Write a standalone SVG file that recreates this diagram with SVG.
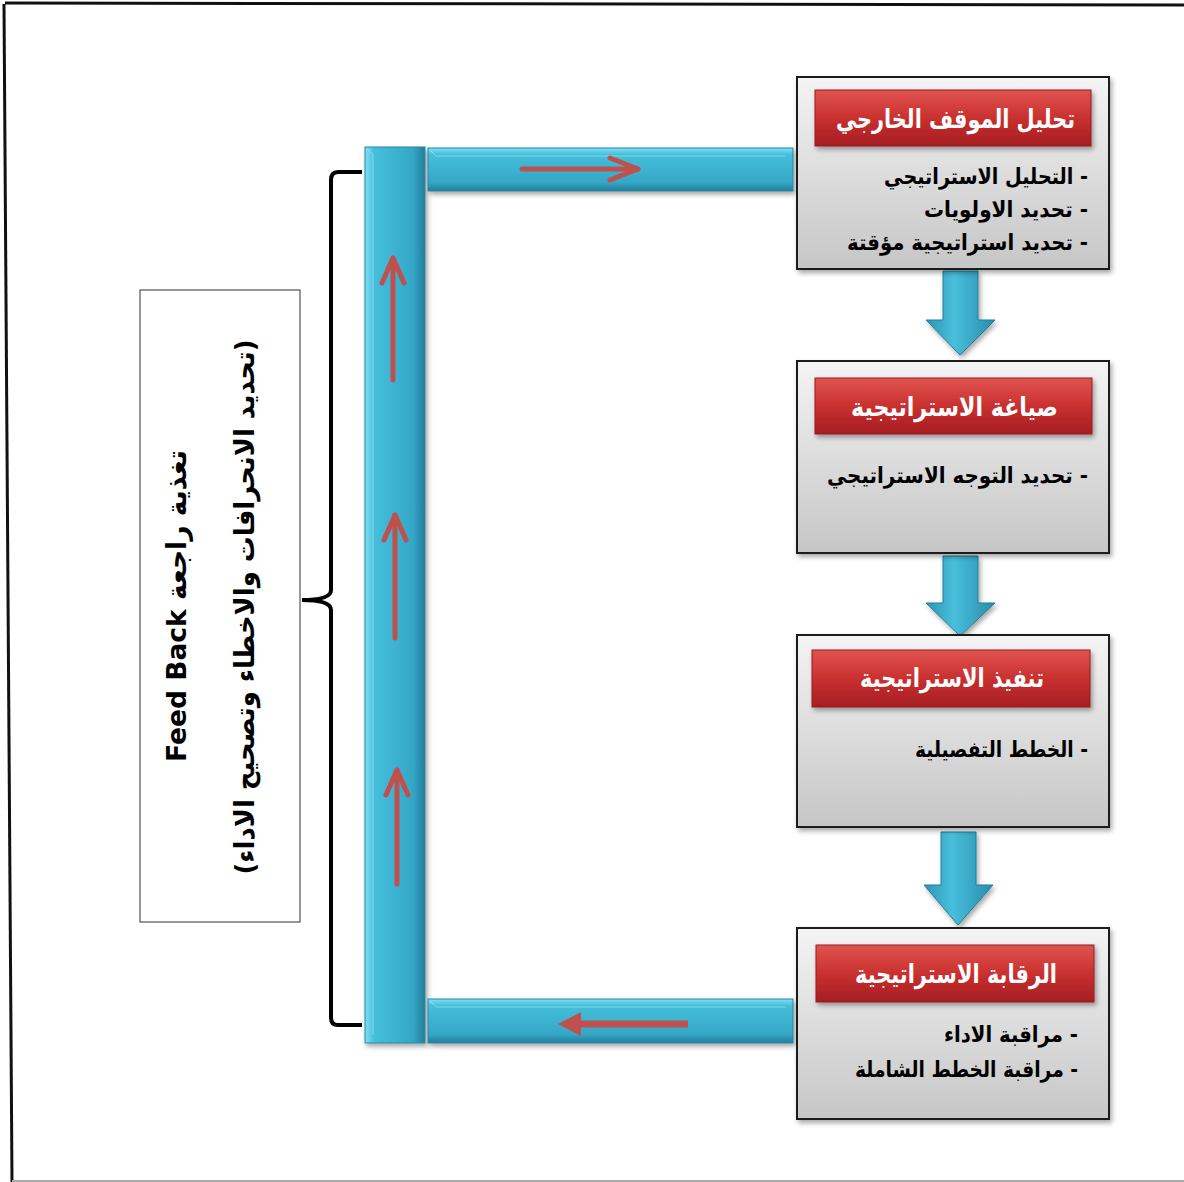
<svg xmlns="http://www.w3.org/2000/svg" width="1184" height="1182" viewBox="0 0 1184 1182">
  <defs>
    <linearGradient id="gBox" x1="0" y1="0" x2="0" y2="1">
      <stop offset="0" stop-color="#f4f4f4"/>
      <stop offset="1" stop-color="#c6c6c6"/>
    </linearGradient>
    <linearGradient id="gRed" x1="0" y1="0" x2="0" y2="1">
      <stop offset="0" stop-color="#e0544f"/>
      <stop offset="0.5" stop-color="#c9302f"/>
      <stop offset="1" stop-color="#a51e22"/>
    </linearGradient>
    <linearGradient id="gBarH" x1="0" y1="0" x2="0" y2="1">
      <stop offset="0" stop-color="#7fe0f5"/>
      <stop offset="0.15" stop-color="#45bfdc"/>
      <stop offset="0.8" stop-color="#34a7c6"/>
      <stop offset="1" stop-color="#237f9a"/>
    </linearGradient>
    <linearGradient id="gBarV" x1="0" y1="0" x2="1" y2="0">
      <stop offset="0" stop-color="#7fe0f5"/>
      <stop offset="0.15" stop-color="#45bfdc"/>
      <stop offset="0.8" stop-color="#34a7c6"/>
      <stop offset="1" stop-color="#237f9a"/>
    </linearGradient>
    <linearGradient id="gDown" x1="0" y1="0" x2="1" y2="0">
      <stop offset="0" stop-color="#2f93b3"/>
      <stop offset="0.4" stop-color="#48bfdc"/>
      <stop offset="1" stop-color="#2a8cab"/>
    </linearGradient>
    <filter id="shadow" x="-10%" y="-10%" width="125%" height="130%">
      <feDropShadow dx="2" dy="3" stdDeviation="2.5" flood-color="#000" flood-opacity="0.35"/>
    </filter>
  </defs>
  <style>
    .box { fill: url(#gBox); stroke: #1a1a1a; stroke-width: 2; }
    .title { fill: url(#gRed); stroke: #9a1c1f; stroke-width: 1; }
    .ttl { font-family: "DejaVu Sans", "Liberation Sans", sans-serif; font-weight: bold; font-size: 26px; fill: #ffffff; }
    .item { font-family: "DejaVu Sans", "Liberation Sans", sans-serif; font-weight: bold; font-size: 22px; fill: #000000; }
    .fb { font-family: "DejaVu Sans", "Liberation Sans", sans-serif; font-weight: bold; font-size: 27px; fill: #000000; }
    .red { stroke: #c0504d; stroke-width: 5; fill: none; stroke-linecap: round; }
    .bevel { fill: none; stroke: #ffffff; stroke-opacity: 0.35; stroke-width: 1; }
  </style>

  <!-- page frame -->
  <line x1="5" y1="3" x2="1184" y2="5" stroke="#111" stroke-width="3"/>
  <line x1="4" y1="4" x2="12" y2="1182" stroke="#111" stroke-width="3"/>
  <line x1="12" y1="1181" x2="1184" y2="1181" stroke="#aaa" stroke-width="2"/>

  <!-- feedback loop bars and flow arrows -->
  <g id="connectors">
    <!-- down arrows between stages -->
    <g filter="url(#shadow)">
      <path d="M943,271 H978 V320 H995 L960,355 L926,320 H943 Z" fill="url(#gDown)" stroke="#237f9a" stroke-width="1"/>
      <path d="M943,556 H978 V603 H995 L960,636 L926,603 H943 Z" fill="url(#gDown)" stroke="#237f9a" stroke-width="1"/>
      <path d="M941,832 H976 V885 H993 L958,925 L924,885 H941 Z" fill="url(#gDown)" stroke="#237f9a" stroke-width="1"/>
    </g>
    <!-- blue return channel -->
    <g filter="url(#shadow)">
      <rect x="365" y="147" width="60" height="896" fill="url(#gBarV)" stroke="#2a869f" stroke-width="1"/>
      <rect x="428" y="148" width="365" height="43" fill="url(#gBarH)" stroke="#2a869f" stroke-width="1"/>
      <rect x="428" y="999" width="365" height="44" fill="url(#gBarH)" stroke="#2a869f" stroke-width="1"/>
    </g>
    <path class="bevel" d="M367,149 L373,155 V1035 M430,150 L436,156 H786 M430,1001 L436,1007 H786"/>
    <!-- red direction arrows -->
    <line class="red" x1="522" y1="169" x2="638" y2="169"/>
    <polyline class="red" points="610,158 638,169 610,180" stroke-linejoin="round"/>
    <line x1="688" y1="1024" x2="580" y2="1024" stroke="#c0504d" stroke-width="7"/>
    <path d="M558,1024 L581,1012 L581,1036 Z" fill="#c0504d"/>
    <line class="red" x1="393" y1="380" x2="393" y2="258"/>
    <polyline class="red" points="382,283 393,258 404,283" stroke-linejoin="round"/>
    <line class="red" x1="395" y1="638" x2="395" y2="515"/>
    <polyline class="red" points="384,540 395,515 406,540" stroke-linejoin="round"/>
    <line class="red" x1="397" y1="884" x2="397" y2="770"/>
    <polyline class="red" points="386,795 397,770 408,795" stroke-linejoin="round"/>
    <!-- brace grouping the feedback channel -->
    <path d="M362,172 H338 Q331,172 331,180 V590 Q331,600 302,600 Q331,600 331,610 V1018 Q331,1025 338,1025 H362" fill="none" stroke="#000" stroke-width="4"/>
  </g>

  <!-- stage 1 -->
  <g id="stage-external-analysis">
    <rect class="box" x="797" y="77" width="312" height="192" filter="url(#shadow)"/>
    <rect class="title" x="815" y="90" width="276" height="56" filter="url(#shadow)"/>
    <text class="ttl" x="1075" y="128" text-anchor="end" textLength="239" lengthAdjust="spacingAndGlyphs">&#8207;تحليل الموقف الخارجي</text>
    <text class="item" x="1088" y="184" text-anchor="end" textLength="204" lengthAdjust="spacingAndGlyphs">&#8207;- التحليل الاستراتيجي</text>
    <text class="item" x="1088" y="217" text-anchor="end" textLength="164" lengthAdjust="spacingAndGlyphs">&#8207;- تحديد الاولويات</text>
    <text class="item" x="1088" y="250" text-anchor="end" textLength="241" lengthAdjust="spacingAndGlyphs">&#8207;- تحديد استراتيجية مؤقتة</text>
  </g>

  <!-- stage 2 -->
  <g id="stage-formulation">
    <rect class="box" x="797" y="361" width="312" height="192" filter="url(#shadow)"/>
    <rect class="title" x="815" y="378" width="277" height="56" filter="url(#shadow)"/>
    <text class="ttl" x="1058" y="416" text-anchor="end" textLength="207" lengthAdjust="spacingAndGlyphs">&#8207;صياغة الاستراتيجية</text>
    <text class="item" x="1088" y="483" text-anchor="end" textLength="261" lengthAdjust="spacingAndGlyphs">&#8207;- تحديد التوجه الاستراتيجي</text>
  </g>

  <!-- stage 3 -->
  <g id="stage-implementation">
    <rect class="box" x="797" y="635" width="312" height="192" filter="url(#shadow)"/>
    <rect class="title" x="812" y="650" width="278" height="57" filter="url(#shadow)"/>
    <text class="ttl" x="1044" y="687" text-anchor="end" textLength="184" lengthAdjust="spacingAndGlyphs">&#8207;تنفيذ الاستراتيجية</text>
    <text class="item" x="1088" y="757" text-anchor="end" textLength="173" lengthAdjust="spacingAndGlyphs">&#8207;- الخطط التفصيلية</text>
  </g>

  <!-- stage 4 -->
  <g id="stage-control">
    <rect class="box" x="797" y="928" width="312" height="191" filter="url(#shadow)"/>
    <rect class="title" x="816" y="945" width="278" height="57" filter="url(#shadow)"/>
    <text class="ttl" x="1057" y="983" text-anchor="end" textLength="202" lengthAdjust="spacingAndGlyphs">&#8207;الرقابة الاستراتيجية</text>
    <text class="item" x="1078" y="1042" text-anchor="end" textLength="134" lengthAdjust="spacingAndGlyphs">&#8207;- مراقبة الاداء</text>
    <text class="item" x="1078" y="1077" text-anchor="end" textLength="223" lengthAdjust="spacingAndGlyphs">&#8207;- مراقبة الخطط الشاملة</text>
  </g>

  <!-- feedback note -->
  <g id="feedback-note">
    <rect x="140" y="290" width="160" height="632" fill="#ffffff" stroke="#333" stroke-width="1"/>
    <text class="fb" transform="translate(186,606) rotate(-90)" text-anchor="middle" textLength="312" lengthAdjust="spacingAndGlyphs">Feed Back تغذية راجعة</text>
    <text class="fb" transform="translate(254,607) rotate(-90)" text-anchor="middle" textLength="535" lengthAdjust="spacingAndGlyphs">&#8207;(تحديد الانحرافات والاخطاء وتصحيح الاداء)&#8207;</text>
  </g>
</svg>
